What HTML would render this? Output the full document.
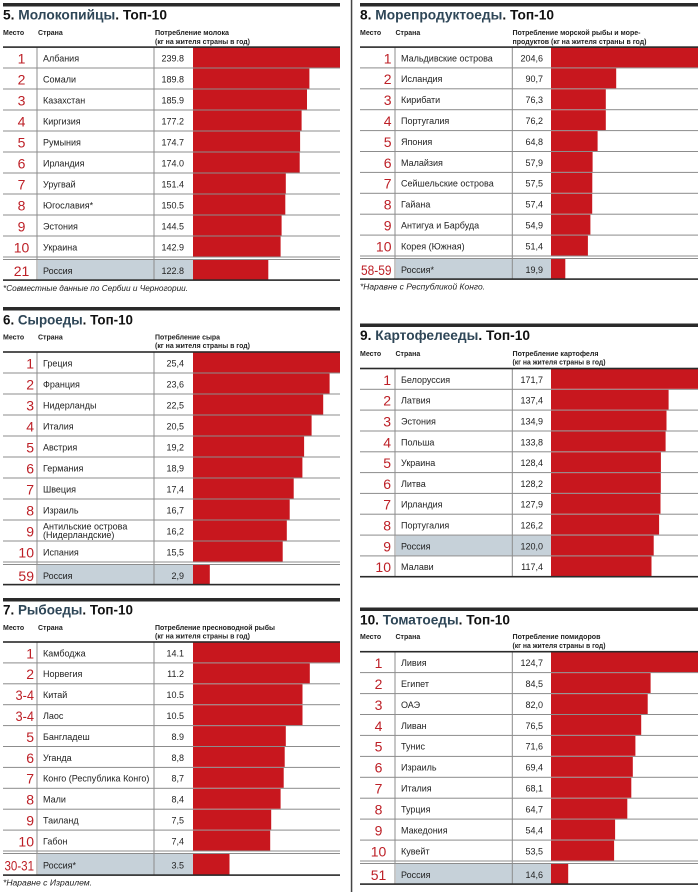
<!DOCTYPE html>
<html><head><meta charset="utf-8">
<style>
html,body{margin:0;padding:0;background:#fff;}
svg{display:block;}
.t{font-family:"Liberation Sans",sans-serif;font-weight:bold;font-size:14px;}
.h{font-family:"Liberation Sans",sans-serif;font-weight:bold;font-size:7px;fill:#222;}
.r{font-family:"Liberation Sans",sans-serif;font-size:14px;fill:#bd1f26;}
.rm{font-family:"Liberation Sans",sans-serif;font-size:14px;fill:#bd1f26;text-anchor:middle;}
.re{font-family:"Liberation Sans",sans-serif;font-size:14px;fill:#bd1f26;text-anchor:end;}
.c{font-family:"Liberation Sans",sans-serif;font-size:9px;fill:#222;}
.v{font-family:"Liberation Sans",sans-serif;font-size:9px;fill:#222;text-anchor:end;}
.f{font-family:"Liberation Sans",sans-serif;font-style:italic;font-size:8px;fill:#222;}
.bar{fill:#c8171e;}
.g{fill:#8c8c8c;}
.d{fill:#2a2a2a;}
.ru{fill:#c6d1d9;}
</style></head>
<body>
<svg width="700" height="892" viewBox="0 0 700 892" xmlns="http://www.w3.org/2000/svg">
<rect x="0" y="0" width="700" height="892" fill="#fff"/>
<!-- divider -->
<rect x="350.8" y="0" width="1.5" height="892" fill="#444"/>

<!-- ================= SECTION 5 ================= -->
<rect x="3" y="3" width="337" height="3.5" class="d"/>
<text x="3" y="19.5" class="t" textLength="164" lengthAdjust="spacingAndGlyphs"><tspan fill="#111">5. </tspan><tspan fill="#2e4657">Молокопийцы</tspan><tspan fill="#111">. Топ-10</tspan></text>
<text x="3" y="35" class="h">Место</text>
<text x="38" y="35" class="h">Страна</text>
<text x="155" y="35" class="h" textLength="74" lengthAdjust="spacingAndGlyphs">Потребление молока</text>
<text x="155" y="44" class="h" textLength="95" lengthAdjust="spacingAndGlyphs">(кг на жителя страны в год)</text>
<rect x="38" y="260" width="155" height="20" class="ru"/>
<rect x="3" y="67.5" width="337" height="1" class="g"/>
<rect x="3" y="88.5" width="337" height="1" class="g"/>
<rect x="3" y="109.5" width="337" height="1" class="g"/>
<rect x="3" y="130.5" width="337" height="1" class="g"/>
<rect x="3" y="151.5" width="337" height="1" class="g"/>
<rect x="3" y="172.5" width="337" height="1" class="g"/>
<rect x="3" y="193.5" width="337" height="1" class="g"/>
<rect x="3" y="214.5" width="337" height="1" class="g"/>
<rect x="3" y="235.5" width="337" height="1" class="g"/>
<rect x="3" y="256.5" width="337" height="1" class="g"/>
<rect x="3" y="259" width="337" height="1" class="g"/>
<rect x="193" y="47.5" width="147" height="20" class="bar"/>
<rect x="193" y="68.5" width="116.4" height="20" class="bar"/>
<rect x="193" y="89.5" width="114.0" height="20" class="bar"/>
<rect x="193" y="110.5" width="108.6" height="20" class="bar"/>
<rect x="193" y="131.5" width="107.1" height="20" class="bar"/>
<rect x="193" y="152.5" width="106.7" height="20" class="bar"/>
<rect x="193" y="173.5" width="92.8" height="20" class="bar"/>
<rect x="193" y="194.5" width="92.3" height="20" class="bar"/>
<rect x="193" y="215.5" width="88.6" height="20" class="bar"/>
<rect x="193" y="236.5" width="87.6" height="20" class="bar"/>
<rect x="193" y="260" width="75.3" height="19.5" class="bar"/>
<rect x="36.5" y="47" width="1" height="233" class="g"/>
<rect x="153.5" y="47" width="1" height="233" class="g"/>
<rect x="3" y="46.3" width="337" height="1.6" class="d"/>
<rect x="3" y="279.3" width="337" height="1.6" class="d"/>
<text x="21.5" y="63.3" class="rm">1</text><text x="43" y="61.3" class="c">Албания</text><text x="184" y="61.3" class="v">239.8</text>
<text x="21.5" y="84.3" class="rm">2</text><text x="43" y="82.3" class="c">Сомали</text><text x="184" y="82.3" class="v">189.8</text>
<text x="21.5" y="105.3" class="rm">3</text><text x="43" y="103.3" class="c">Казахстан</text><text x="184" y="103.3" class="v">185.9</text>
<text x="21.5" y="126.3" class="rm">4</text><text x="43" y="124.3" class="c">Киргизия</text><text x="184" y="124.3" class="v">177.2</text>
<text x="21.5" y="147.3" class="rm">5</text><text x="43" y="145.3" class="c">Румыния</text><text x="184" y="145.3" class="v">174.7</text>
<text x="21.5" y="168.3" class="rm">6</text><text x="43" y="166.3" class="c">Ирландия</text><text x="184" y="166.3" class="v">174.0</text>
<text x="21.5" y="189.3" class="rm">7</text><text x="43" y="187.3" class="c">Уругвай</text><text x="184" y="187.3" class="v">151.4</text>
<text x="21.5" y="210.3" class="rm">8</text><text x="43" y="208.3" class="c">Югославия*</text><text x="184" y="208.3" class="v">150.5</text>
<text x="21.5" y="231.3" class="rm">9</text><text x="43" y="229.3" class="c">Эстония</text><text x="184" y="229.3" class="v">144.5</text>
<text x="21.5" y="252.3" class="rm">10</text><text x="43" y="250.3" class="c">Украина</text><text x="184" y="250.3" class="v">142.9</text>
<text x="21.5" y="275.8" class="rm">21</text><text x="43" y="273.8" class="c">Россия</text><text x="184" y="273.8" class="v">122.8</text>
<text x="3" y="291" class="f" textLength="185" lengthAdjust="spacingAndGlyphs">*Совместные данные по Сербии и Черногории.</text>

<!-- ================= SECTION 6 ================= -->
<rect x="3" y="307" width="337" height="3.5" class="d"/>
<text x="3" y="324.5" class="t" textLength="130" lengthAdjust="spacingAndGlyphs"><tspan fill="#111">6. </tspan><tspan fill="#2e4657">Сыроеды</tspan><tspan fill="#111">. Топ-10</tspan></text>
<text x="3" y="339.3" class="h">Место</text>
<text x="38" y="339.3" class="h">Страна</text>
<text x="155" y="339.3" class="h" textLength="65" lengthAdjust="spacingAndGlyphs">Потребление сыра</text>
<text x="155" y="348" class="h" textLength="95" lengthAdjust="spacingAndGlyphs">(кг на жителя страны в год)</text>
<rect x="38" y="565" width="155" height="19.5" class="ru"/>
<rect x="3" y="372.5" width="337" height="1" class="g"/>
<rect x="3" y="393.5" width="337" height="1" class="g"/>
<rect x="3" y="414.5" width="337" height="1" class="g"/>
<rect x="3" y="435.5" width="337" height="1" class="g"/>
<rect x="3" y="456.5" width="337" height="1" class="g"/>
<rect x="3" y="477.5" width="337" height="1" class="g"/>
<rect x="3" y="498.5" width="337" height="1" class="g"/>
<rect x="3" y="519.5" width="337" height="1" class="g"/>
<rect x="3" y="540.5" width="337" height="1" class="g"/>
<rect x="3" y="561.5" width="337" height="1" class="g"/>
<rect x="3" y="564" width="337" height="1" class="g"/>
<rect x="193" y="352.5" width="147" height="20" class="bar"/>
<rect x="193" y="373.5" width="136.6" height="20" class="bar"/>
<rect x="193" y="394.5" width="130.2" height="20" class="bar"/>
<rect x="193" y="415.5" width="118.6" height="20" class="bar"/>
<rect x="193" y="436.5" width="111.1" height="20" class="bar"/>
<rect x="193" y="457.5" width="109.4" height="20" class="bar"/>
<rect x="193" y="478.5" width="100.7" height="20" class="bar"/>
<rect x="193" y="499.5" width="96.7" height="20" class="bar"/>
<rect x="193" y="520.5" width="93.8" height="20" class="bar"/>
<rect x="193" y="541.5" width="89.7" height="20" class="bar"/>
<rect x="193" y="565" width="16.8" height="19.5" class="bar"/>
<rect x="36.5" y="352" width="1" height="233" class="g"/>
<rect x="153.5" y="352" width="1" height="233" class="g"/>
<rect x="3" y="351.2" width="337" height="1.6" class="d"/>
<rect x="3" y="583.8" width="337" height="1.6" class="d"/>
<text x="34" y="368.3" class="re">1</text><text x="43" y="366.3" class="c">Греция</text><text x="184" y="366.3" class="v">25,4</text>
<text x="34" y="389.3" class="re">2</text><text x="43" y="387.3" class="c">Франция</text><text x="184" y="387.3" class="v">23,6</text>
<text x="34" y="410.3" class="re">3</text><text x="43" y="408.3" class="c">Нидерланды</text><text x="184" y="408.3" class="v">22,5</text>
<text x="34" y="431.3" class="re">4</text><text x="43" y="429.3" class="c">Италия</text><text x="184" y="429.3" class="v">20,5</text>
<text x="34" y="452.3" class="re">5</text><text x="43" y="450.3" class="c">Австрия</text><text x="184" y="450.3" class="v">19,2</text>
<text x="34" y="473.3" class="re">6</text><text x="43" y="471.3" class="c">Германия</text><text x="184" y="471.3" class="v">18,9</text>
<text x="34" y="494.3" class="re">7</text><text x="43" y="492.3" class="c">Швеция</text><text x="184" y="492.3" class="v">17,4</text>
<text x="34" y="515.3" class="re">8</text><text x="43" y="513.3" class="c">Израиль</text><text x="184" y="513.3" class="v">16,7</text>
<text x="34" y="536.3" class="re">9</text><text x="43" y="529.5" class="c">Антильские острова</text><text x="43" y="538" class="c">(Нидерландские)</text><text x="184" y="534.3" class="v">16,2</text>
<text x="34" y="557.3" class="re">10</text><text x="43" y="555.3" class="c">Испания</text><text x="184" y="555.3" class="v">15,5</text>
<text x="34" y="580.8" class="re">59</text><text x="43" y="578.8" class="c">Россия</text><text x="184" y="578.8" class="v">2,9</text>

<!-- ================= SECTION 7 ================= -->
<rect x="3" y="598" width="337" height="3.5" class="d"/>
<text x="3" y="614.5" class="t" textLength="130" lengthAdjust="spacingAndGlyphs"><tspan fill="#111">7. </tspan><tspan fill="#2e4657">Рыбоеды</tspan><tspan fill="#111">. Топ-10</tspan></text>
<text x="3" y="630" class="h">Место</text>
<text x="38" y="630" class="h">Страна</text>
<text x="155" y="630" class="h" textLength="120" lengthAdjust="spacingAndGlyphs">Потребление пресноводной рыбы</text>
<text x="155" y="638.3" class="h" textLength="95" lengthAdjust="spacingAndGlyphs">(кг на жителя страны в год)</text>
<rect x="38" y="854" width="155" height="20.5" class="ru"/>
<rect x="3" y="662.4" width="337" height="1" class="g"/>
<rect x="3" y="683.3" width="337" height="1" class="g"/>
<rect x="3" y="704.2" width="337" height="1" class="g"/>
<rect x="3" y="725.1" width="337" height="1" class="g"/>
<rect x="3" y="746" width="337" height="1" class="g"/>
<rect x="3" y="766.9" width="337" height="1" class="g"/>
<rect x="3" y="787.8" width="337" height="1" class="g"/>
<rect x="3" y="808.7" width="337" height="1" class="g"/>
<rect x="3" y="829.6" width="337" height="1" class="g"/>
<rect x="3" y="850.5" width="337" height="1" class="g"/>
<rect x="3" y="853" width="337" height="1" class="g"/>
<rect x="193" y="642.5" width="147" height="19.9" class="bar"/>
<rect x="193" y="663.4" width="116.8" height="19.9" class="bar"/>
<rect x="193" y="684.3" width="109.5" height="19.9" class="bar"/>
<rect x="193" y="705.2" width="109.5" height="19.9" class="bar"/>
<rect x="193" y="726.1" width="92.8" height="19.9" class="bar"/>
<rect x="193" y="747" width="91.7" height="19.9" class="bar"/>
<rect x="193" y="767.9" width="90.7" height="19.9" class="bar"/>
<rect x="193" y="788.8" width="87.6" height="19.9" class="bar"/>
<rect x="193" y="809.7" width="78.2" height="19.9" class="bar"/>
<rect x="193" y="830.6" width="77.2" height="19.9" class="bar"/>
<rect x="193" y="854" width="36.5" height="20.5" class="bar"/>
<rect x="36.5" y="642" width="1" height="233" class="g"/>
<rect x="153.5" y="642" width="1" height="233" class="g"/>
<rect x="3" y="641.2" width="337" height="1.6" class="d"/>
<rect x="3" y="874.3" width="337" height="1.6" class="d"/>
<text x="34" y="658.3" class="re">1</text><text x="43" y="656.3" class="c">Камбоджа</text><text x="184" y="656.3" class="v">14.1</text>
<text x="34" y="679.2" class="re">2</text><text x="43" y="677.2" class="c">Норвегия</text><text x="184" y="677.2" class="v">11.2</text>
<text x="34" y="700.1" class="re" textLength="18.5" lengthAdjust="spacingAndGlyphs">3-4</text><text x="43" y="698.1" class="c">Китай</text><text x="184" y="698.1" class="v">10.5</text>
<text x="34" y="721" class="re" textLength="18.5" lengthAdjust="spacingAndGlyphs">3-4</text><text x="43" y="719" class="c">Лаос</text><text x="184" y="719" class="v">10.5</text>
<text x="34" y="741.9" class="re">5</text><text x="43" y="739.9" class="c">Бангладеш</text><text x="184" y="739.9" class="v">8.9</text>
<text x="34" y="762.8" class="re">6</text><text x="43" y="760.8" class="c">Уганда</text><text x="184" y="760.8" class="v">8,8</text>
<text x="34" y="783.7" class="re">7</text><text x="43" y="781.7" class="c">Конго (Республика Конго)</text><text x="184" y="781.7" class="v">8,7</text>
<text x="34" y="804.6" class="re">8</text><text x="43" y="802.6" class="c">Мали</text><text x="184" y="802.6" class="v">8,4</text>
<text x="34" y="825.5" class="re">9</text><text x="43" y="823.5" class="c">Таиланд</text><text x="184" y="823.5" class="v">7,5</text>
<text x="34" y="846.4" class="re">10</text><text x="43" y="844.4" class="c">Габон</text><text x="184" y="844.4" class="v">7,4</text>
<text x="34" y="870.3" class="re" textLength="29.5" lengthAdjust="spacingAndGlyphs">30-31</text><text x="43" y="868.3" class="c">Россия*</text><text x="184" y="868.3" class="v">3.5</text>
<text x="3" y="885.5" class="f" textLength="89" lengthAdjust="spacingAndGlyphs">*Наравне с Израилем.</text>

<!-- ================= SECTION 8 ================= -->
<rect x="360" y="3" width="338" height="3.5" class="d"/>
<text x="360" y="19.5" class="t" textLength="194" lengthAdjust="spacingAndGlyphs"><tspan fill="#111">8. </tspan><tspan fill="#2e4657">Морепродуктоеды</tspan><tspan fill="#111">. Топ-10</tspan></text>
<text x="360" y="35" class="h">Место</text>
<text x="395.5" y="35" class="h">Страна</text>
<text x="512.5" y="35" class="h" textLength="128" lengthAdjust="spacingAndGlyphs">Потребление морской рыбы и море-</text>
<text x="512.5" y="44" class="h" textLength="134" lengthAdjust="spacingAndGlyphs">продуктов (кг на жителя страны в год)</text>
<rect x="396" y="259" width="155" height="19.5" class="ru"/>
<rect x="360" y="67.4" width="338" height="1" class="g"/>
<rect x="360" y="88.3" width="338" height="1" class="g"/>
<rect x="360" y="109.2" width="338" height="1" class="g"/>
<rect x="360" y="130.1" width="338" height="1" class="g"/>
<rect x="360" y="151" width="338" height="1" class="g"/>
<rect x="360" y="171.9" width="338" height="1" class="g"/>
<rect x="360" y="192.8" width="338" height="1" class="g"/>
<rect x="360" y="213.7" width="338" height="1" class="g"/>
<rect x="360" y="234.6" width="338" height="1" class="g"/>
<rect x="360" y="255.5" width="338" height="1" class="g"/>
<rect x="360" y="258" width="338" height="1" class="g"/>
<rect x="551" y="47.5" width="147" height="19.9" class="bar"/>
<rect x="551" y="68.4" width="65.2" height="19.9" class="bar"/>
<rect x="551" y="89.3" width="54.8" height="19.9" class="bar"/>
<rect x="551" y="110.2" width="54.8" height="19.9" class="bar"/>
<rect x="551" y="131.1" width="46.6" height="19.9" class="bar"/>
<rect x="551" y="152" width="41.6" height="19.9" class="bar"/>
<rect x="551" y="172.9" width="41.3" height="19.9" class="bar"/>
<rect x="551" y="193.8" width="41.2" height="19.9" class="bar"/>
<rect x="551" y="214.7" width="39.4" height="19.9" class="bar"/>
<rect x="551" y="235.6" width="36.9" height="19.9" class="bar"/>
<rect x="551" y="259" width="14.3" height="19.5" class="bar"/>
<rect x="394.5" y="47" width="1" height="232" class="g"/>
<rect x="511.8" y="47" width="1" height="232" class="g"/>
<rect x="360" y="46.3" width="338" height="1.6" class="d"/>
<rect x="360" y="278.3" width="338" height="1.6" class="d"/>
<text x="391.5" y="63.3" class="re">1</text><text x="401" y="61.3" class="c">Мальдивские острова</text><text x="543" y="61.3" class="v">204,6</text>
<text x="391.5" y="84.2" class="re">2</text><text x="401" y="82.2" class="c">Исландия</text><text x="543" y="82.2" class="v">90,7</text>
<text x="391.5" y="105.1" class="re">3</text><text x="401" y="103.1" class="c">Кирибати</text><text x="543" y="103.1" class="v">76,3</text>
<text x="391.5" y="126" class="re">4</text><text x="401" y="124" class="c">Португалия</text><text x="543" y="124" class="v">76,2</text>
<text x="391.5" y="146.9" class="re">5</text><text x="401" y="144.9" class="c">Япония</text><text x="543" y="144.9" class="v">64,8</text>
<text x="391.5" y="167.8" class="re">6</text><text x="401" y="165.8" class="c">Малайзия</text><text x="543" y="165.8" class="v">57,9</text>
<text x="391.5" y="188.7" class="re">7</text><text x="401" y="186.7" class="c">Сейшельские острова</text><text x="543" y="186.7" class="v">57,5</text>
<text x="391.5" y="209.6" class="re">8</text><text x="401" y="207.6" class="c">Гайана</text><text x="543" y="207.6" class="v">57,4</text>
<text x="391.5" y="230.5" class="re">9</text><text x="401" y="228.5" class="c">Антигуа и Барбуда</text><text x="543" y="228.5" class="v">54,9</text>
<text x="391.5" y="251.4" class="re">10</text><text x="401" y="249.4" class="c">Корея (Южная)</text><text x="543" y="249.4" class="v">51,4</text>
<text x="391.5" y="274.8" class="re" textLength="30.5" lengthAdjust="spacingAndGlyphs">58-59</text><text x="401" y="272.8" class="c">Россия*</text><text x="543" y="272.8" class="v">19,9</text>
<text x="360" y="289.5" class="f" textLength="125" lengthAdjust="spacingAndGlyphs">*Наравне с Республикой Конго.</text>

<!-- ================= SECTION 9 ================= -->
<rect x="360" y="323.5" width="338" height="3.5" class="d"/>
<text x="360" y="340" class="t" textLength="170" lengthAdjust="spacingAndGlyphs"><tspan fill="#111">9. </tspan><tspan fill="#2e4657">Картофелееды</tspan><tspan fill="#111">. Топ-10</tspan></text>
<text x="360" y="356" class="h">Место</text>
<text x="395.5" y="356" class="h">Страна</text>
<text x="512.5" y="356" class="h" textLength="86" lengthAdjust="spacingAndGlyphs">Потребление картофеля</text>
<text x="512.5" y="364.5" class="h" textLength="93" lengthAdjust="spacingAndGlyphs">(кг на жителя страны в год)</text>
<rect x="396" y="535.6" width="155" height="19.8" class="ru"/>
<rect x="360" y="388.8" width="338" height="1" class="g"/>
<rect x="360" y="409.6" width="338" height="1" class="g"/>
<rect x="360" y="430.5" width="338" height="1" class="g"/>
<rect x="360" y="451.3" width="338" height="1" class="g"/>
<rect x="360" y="472.1" width="338" height="1" class="g"/>
<rect x="360" y="492.9" width="338" height="1" class="g"/>
<rect x="360" y="513.7" width="338" height="1" class="g"/>
<rect x="360" y="534.6" width="338" height="1" class="g"/>
<rect x="360" y="555.4" width="338" height="1" class="g"/>
<rect x="551" y="369" width="147" height="19.8" class="bar"/>
<rect x="551" y="389.8" width="117.6" height="19.8" class="bar"/>
<rect x="551" y="410.6" width="115.5" height="19.8" class="bar"/>
<rect x="551" y="431.5" width="114.6" height="19.8" class="bar"/>
<rect x="551" y="452.3" width="109.9" height="19.8" class="bar"/>
<rect x="551" y="473.1" width="109.8" height="19.8" class="bar"/>
<rect x="551" y="493.9" width="109.5" height="19.8" class="bar"/>
<rect x="551" y="514.7" width="108.1" height="19.8" class="bar"/>
<rect x="551" y="535.6" width="102.7" height="19.8" class="bar"/>
<rect x="551" y="556.4" width="100.5" height="19.8" class="bar"/>
<rect x="394.5" y="368" width="1" height="209" class="g"/>
<rect x="511.8" y="368" width="1" height="209" class="g"/>
<rect x="360" y="367.7" width="338" height="1.6" class="d"/>
<rect x="360" y="575.9" width="338" height="1.6" class="d"/>
<text x="391" y="384.8" class="re">1</text><text x="401" y="382.8" class="c">Белоруссия</text><text x="543" y="382.8" class="v">171,7</text>
<text x="391" y="405.6" class="re">2</text><text x="401" y="403.6" class="c">Латвия</text><text x="543" y="403.6" class="v">137,4</text>
<text x="391" y="426.4" class="re">3</text><text x="401" y="424.4" class="c">Эстония</text><text x="543" y="424.4" class="v">134,9</text>
<text x="391" y="447.3" class="re">4</text><text x="401" y="445.3" class="c">Польша</text><text x="543" y="445.3" class="v">133,8</text>
<text x="391" y="468.1" class="re">5</text><text x="401" y="466.1" class="c">Украина</text><text x="543" y="466.1" class="v">128,4</text>
<text x="391" y="488.9" class="re">6</text><text x="401" y="486.9" class="c">Литва</text><text x="543" y="486.9" class="v">128,2</text>
<text x="391" y="509.7" class="re">7</text><text x="401" y="507.7" class="c">Ирландия</text><text x="543" y="507.7" class="v">127,9</text>
<text x="391" y="530.5" class="re">8</text><text x="401" y="528.5" class="c">Португалия</text><text x="543" y="528.5" class="v">126,2</text>
<text x="391" y="551.4" class="re">9</text><text x="401" y="549.4" class="c">Россия</text><text x="543" y="549.4" class="v">120,0</text>
<text x="391" y="572.2" class="re">10</text><text x="401" y="570.2" class="c">Малави</text><text x="543" y="570.2" class="v">117,4</text>

<!-- ================= SECTION 10 ================= -->
<rect x="360" y="607.5" width="338" height="3.5" class="d"/>
<text x="360" y="624.5" class="t" textLength="150" lengthAdjust="spacingAndGlyphs"><tspan fill="#111">10. </tspan><tspan fill="#2e4657">Томатоеды</tspan><tspan fill="#111">. Топ-10</tspan></text>
<text x="360" y="639" class="h">Место</text>
<text x="395.5" y="639" class="h">Страна</text>
<text x="512.5" y="639" class="h" textLength="88" lengthAdjust="spacingAndGlyphs">Потребление помидоров</text>
<text x="512.5" y="648" class="h" textLength="93" lengthAdjust="spacingAndGlyphs">(кг на жителя страны в год)</text>
<rect x="396" y="864" width="155" height="19.5" class="ru"/>
<rect x="360" y="672.1" width="338" height="1" class="g"/>
<rect x="360" y="693.1" width="338" height="1" class="g"/>
<rect x="360" y="714" width="338" height="1" class="g"/>
<rect x="360" y="734.9" width="338" height="1" class="g"/>
<rect x="360" y="755.9" width="338" height="1" class="g"/>
<rect x="360" y="776.8" width="338" height="1" class="g"/>
<rect x="360" y="797.7" width="338" height="1" class="g"/>
<rect x="360" y="818.6" width="338" height="1" class="g"/>
<rect x="360" y="839.6" width="338" height="1" class="g"/>
<rect x="360" y="860.5" width="338" height="1" class="g"/>
<rect x="360" y="863" width="338" height="1" class="g"/>
<rect x="551" y="652.2" width="147" height="19.9" class="bar"/>
<rect x="551" y="673.1" width="99.6" height="19.9" class="bar"/>
<rect x="551" y="694.1" width="96.7" height="19.9" class="bar"/>
<rect x="551" y="715" width="90.2" height="19.9" class="bar"/>
<rect x="551" y="735.9" width="84.4" height="19.9" class="bar"/>
<rect x="551" y="756.9" width="81.8" height="19.9" class="bar"/>
<rect x="551" y="777.8" width="80.3" height="19.9" class="bar"/>
<rect x="551" y="798.7" width="76.3" height="19.9" class="bar"/>
<rect x="551" y="819.6" width="64.1" height="19.9" class="bar"/>
<rect x="551" y="840.6" width="63.1" height="19.9" class="bar"/>
<rect x="551" y="864" width="17.2" height="19.5" class="bar"/>
<rect x="394.5" y="651" width="1" height="233" class="g"/>
<rect x="511.8" y="651" width="1" height="233" class="g"/>
<rect x="360" y="650.9" width="338" height="1.6" class="d"/>
<rect x="360" y="883.3" width="338" height="1.6" class="d"/>
<text x="378.5" y="668" class="rm">1</text><text x="401" y="666" class="c">Ливия</text><text x="543" y="666" class="v">124,7</text>
<text x="378.5" y="688.9" class="rm">2</text><text x="401" y="686.9" class="c">Египет</text><text x="543" y="686.9" class="v">84,5</text>
<text x="378.5" y="709.9" class="rm">3</text><text x="401" y="707.9" class="c">ОАЭ</text><text x="543" y="707.9" class="v">82,0</text>
<text x="378.5" y="730.8" class="rm">4</text><text x="401" y="728.8" class="c">Ливан</text><text x="543" y="728.8" class="v">76,5</text>
<text x="378.5" y="751.7" class="rm">5</text><text x="401" y="749.7" class="c">Тунис</text><text x="543" y="749.7" class="v">71,6</text>
<text x="378.5" y="772.7" class="rm">6</text><text x="401" y="770.7" class="c">Израиль</text><text x="543" y="770.7" class="v">69,4</text>
<text x="378.5" y="793.6" class="rm">7</text><text x="401" y="791.6" class="c">Италия</text><text x="543" y="791.6" class="v">68,1</text>
<text x="378.5" y="814.5" class="rm">8</text><text x="401" y="812.5" class="c">Турция</text><text x="543" y="812.5" class="v">64,7</text>
<text x="378.5" y="835.4" class="rm">9</text><text x="401" y="833.4" class="c">Македония</text><text x="543" y="833.4" class="v">54,4</text>
<text x="378.5" y="856.4" class="rm">10</text><text x="401" y="854.4" class="c">Кувейт</text><text x="543" y="854.4" class="v">53,5</text>
<text x="378.5" y="879.8" class="rm">51</text><text x="401" y="877.8" class="c">Россия</text><text x="543" y="877.8" class="v">14,6</text>
</svg>
</body></html>
